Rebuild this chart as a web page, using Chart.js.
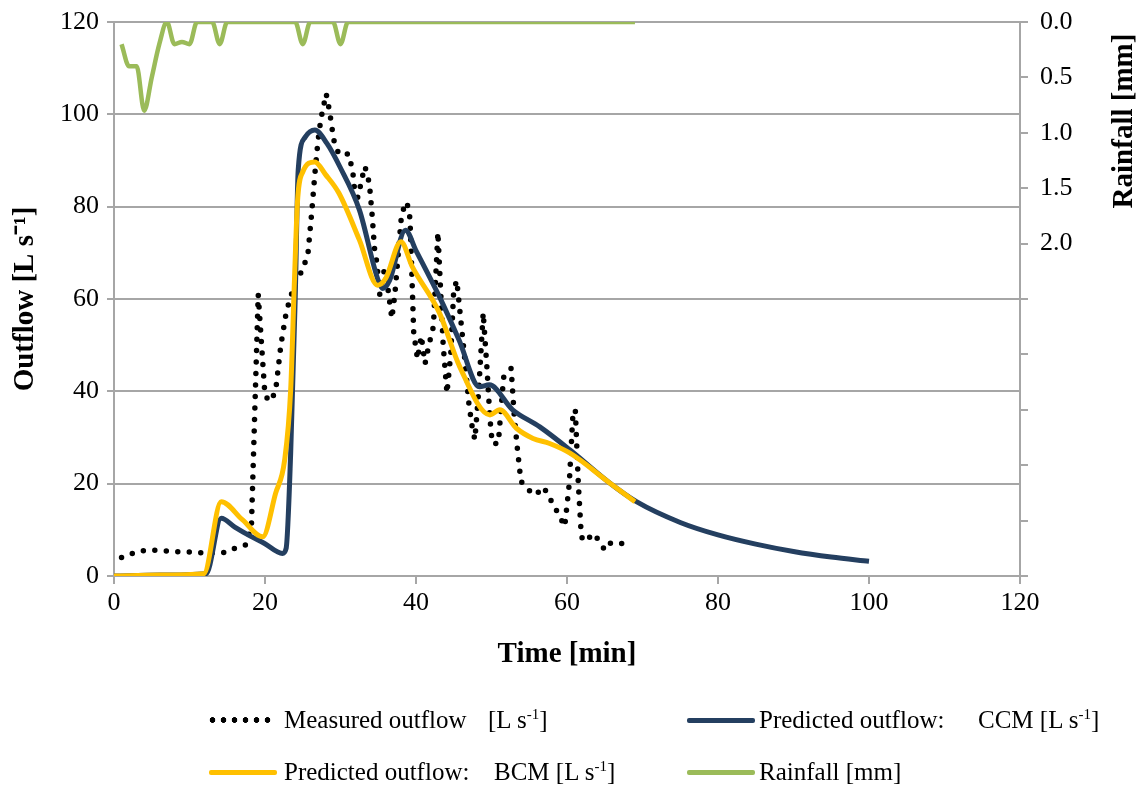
<!DOCTYPE html>
<html>
<head>
<meta charset="utf-8">
<script src="https://cdn.jsdelivr.net/npm/chart.js@4.4.1/dist/chart.umd.min.js"></script>
<style>
  body { margin: 0; background: #fff; }
  #wrap { position: relative; width: 1142px; height: 789px; font-family: 'Liberation Serif', 'Times New Roman', serif; }
  #chart { position: absolute; left: 0; top: 0; }
  .lg { position: absolute; font-size: 25px; line-height: 30px; color: #000; white-space: nowrap; }
  .lg sup { font-size: 15px; line-height: 0; }
  .sw { position: absolute; height: 5px; border-radius: 2px; }
  .dots { position: absolute; height: 6px; background-image: radial-gradient(circle, #000 2.6px, transparent 3.1px); background-size: 11px 6px; }
</style>
</head>
<body>
<div id="wrap">
  <canvas id="chart" width="1142" height="789"></canvas>

  <div class="dots" style="left:207px; top:717px; width:68px;"></div>
  <div class="lg" style="left:284px; top:705px;">Measured outflow</div>
  <div class="lg" style="left:488px; top:705px;">[L s<sup>-1</sup>]</div>

  <div class="sw" style="left:687px; top:718px; width:68px; background:#243F60;"></div>
  <div class="lg" style="left:759px; top:705px;">Predicted outflow:</div>
  <div class="lg" style="left:978px; top:705px;">CCM [L s<sup>-1</sup>]</div>

  <div class="sw" style="left:209px; top:770px; width:68px; background:#FFC000;"></div>
  <div class="lg" style="left:284px; top:757px;">Predicted outflow:</div>
  <div class="lg" style="left:494px; top:757px;">BCM [L s<sup>-1</sup>]</div>

  <div class="sw" style="left:687px; top:770px; width:68px; background:#9BBB59;"></div>
  <div class="lg" style="left:759px; top:757px;">Rainfall [mm]</div>
</div>
<script>
// rainfall [mm] vs time [min]
const rainTime = [1, 2, 3, 4, 5, 6, 7, 8, 9, 10, 11, 12, 13, 14, 15, 24, 25, 26, 29, 30, 31, 69];
const rainMm   = [0.2, 0.4, 0.4, 0.8, 0.5, 0.2, 0, 0.2, 0.18, 0.2, 0, 0, 0, 0.2, 0, 0, 0.2, 0, 0, 0.2, 0, 0];

// measured outflow [L/s]
const measTime = [1, 2, 3, 4, 5, 6, 8, 10, 12, 14, 15, 16, 17.4, 18.2, 19.1, 20, 20.7, 21.4, 22.1, 22.8,
  23.3, 24.1, 25, 25.7, 26.2, 26.6, 27, 27.4, 28.1, 28.4, 28.7, 29.1, 29.6, 30.3, 31, 31.6, 31.9, 32.3,
  33.2, 33.6, 33.9, 34.2, 34.5, 34.8, 35.2, 35.8, 36.3, 36.8, 37.2, 38.1, 38.8, 39.2, 39.4, 39.7, 40.2,
  40.7, 41.2, 41.7, 42.3, 42.9, 43.6, 44.1, 44.6, 45, 45.4, 45.9, 46.4, 47, 47.5, 47.8, 48.3, 48.9, 49.4,
  49.8, 50.1, 50.9, 51.6, 52.6, 53, 53.4, 53.9, 55, 55.8, 56.9, 58, 59, 59.7, 60.3, 60.8, 61.1, 61.5,
  61.9, 62.4, 63.5, 64.3, 65, 65.8, 67, 68.7];
const measQ = [4, 4.6, 5.3, 5.5, 5.6, 5.5, 5.3, 5.2, 5.0, 5.0, 5.2, 6, 6.7, 10.7, 61, 39, 37.8, 40, 50, 57,
  60, 64, 66.3, 70, 79, 87, 94, 99, 104.5, 102, 99, 94.5, 92, 91, 91.5, 88, 83, 82,
  88.7, 87, 83.6, 78, 71, 68, 61, 66.3, 62, 55.8, 61, 78.6, 81, 77.5, 68, 52.6, 47,
  52, 46, 50, 54, 74.5, 50, 39.6, 48, 62, 64, 56, 48, 37.4, 31.6, 29.5, 40, 57, 45,
  34, 28.7, 28.7, 43, 45, 35, 28, 20.5, 18.5, 17.5, 19.3, 16, 13, 10.7, 20, 35.6, 36, 20,
  8.5, 7.4, 9.2, 7.5, 5.6, 7.2, 7, 7.1];

// predicted outflow, CCM [L/s]
const ccmTime = [0, 6, 12.2, 14.2, 16, 18, 20, 22.3, 22.8, 23.4, 24.0, 24.4, 25.3, 26.6, 28.2, 29.9, 32.5,
  35, 35.6, 36.5, 38.6, 40, 43.1, 45.7, 48.4, 49.7, 52.8, 56.4, 60.4, 65.7, 69.2, 75, 80, 85, 90, 95, 100];
const ccmQ = [0, 0.2, 0.5, 12.5, 10.6, 8.7, 7, 4.9, 6, 26.6, 60, 88, 95, 96.6, 93.7, 88.7, 79.3,
  64, 62.3, 64, 74.9, 70.5, 60.5, 51.1, 41, 41.4, 36, 32.3, 27.3, 20.1, 16.1, 11.6, 8.9, 6.9, 5.3, 4.1, 3.2];

// predicted outflow, BCM [L/s]
const bcmTime = [0, 6, 11.9, 14.2, 17, 19.7, 21.4, 22.6, 23.4, 23.9, 24.3, 25, 26.6, 28, 29.8, 32.5, 34.9,
  36, 38, 39.5, 43.1, 45.8, 49.8, 51.1, 53.3, 55.5, 57.7, 60.4, 65.7, 69];
const bcmQ = [0, 0.2, 0.5, 16.1, 12.2, 8.5, 17.9, 25.1, 40.3, 64, 81, 87.5, 89.7, 87, 82.9, 72.8, 63,
  64.5, 72.4, 67, 57, 45.3, 34.9, 36, 32, 29.8, 28.7, 26.6, 20.1, 16.1];

const xTicks = [0, 20, 40, 60, 80, 100, 120];

function pts(xs, ys) {
  return xs.map((x, i) => ({ x: x, y: ys[i] }));
}

const serif = "'Liberation Serif', 'Times New Roman', serif";
Chart.defaults.font.family = serif;
Chart.defaults.color = '#000';
const gridGray = '#a6a6a6';

const rightTitle = {
  id: 'rightTitle',
  afterDraw(chart) {
    const ctx = chart.ctx;
    ctx.save();
    ctx.translate(1125, 121);
    ctx.rotate(-Math.PI / 2);
    ctx.font = 'bold 29px ' + serif;
    ctx.fillStyle = '#000';
    ctx.textAlign = 'center';
    ctx.textBaseline = 'middle';
    ctx.fillText('Rainfall [mm]', 0, 0);
    ctx.restore();
  }
};

const ctx = document.getElementById('chart').getContext('2d');
const chart = new Chart(ctx, {
  type: 'line',
  data: {
    datasets: [
      {
        label: 'Measured outflow [L s-1]',
        data: pts(measTime, measQ),
        yAxisID: 'y',
        borderColor: '#000',
        borderWidth: 5.5,
        borderDash: [0, 11.5],
        borderCapStyle: 'round',
        pointRadius: 0,
        tension: 0,
        order: 4
      },
      {
        label: 'Predicted outflow: CCM [L s-1]',
        data: pts(ccmTime, ccmQ),
        yAxisID: 'y',
        borderColor: '#243F60',
        borderWidth: 5,
        pointRadius: 0,
        cubicInterpolationMode: 'monotone',
        order: 3
      },
      {
        label: 'Predicted outflow: BCM [L s-1]',
        data: pts(bcmTime, bcmQ),
        yAxisID: 'y',
        borderColor: '#FFC000',
        borderWidth: 5,
        pointRadius: 0,
        cubicInterpolationMode: 'monotone',
        order: 2
      },
      {
        label: 'Rainfall [mm]',
        data: pts(rainTime, rainMm),
        yAxisID: 'y2',
        borderColor: '#9BBB59',
        borderWidth: 4.5,
        pointRadius: 0,
        cubicInterpolationMode: 'monotone',
        order: 1
      }
    ]
  },
  options: {
    responsive: false,
    animation: false,
    layout: { padding: { top: 22, bottom: 100, left: 0, right: 0 } },
    plugins: {
      legend: { display: false },
      tooltip: { enabled: false }
    },
    scales: {
      x: {
        type: 'linear',
        min: 0,
        max: 120,
        afterBuildTicks: s => { s.ticks = xTicks.map(v => ({ value: v })); },
        afterFit: s => { s.height = 113; },
        ticks: { font: { size: 26 }, padding: 4, maxRotation: 0 },
        grid: { drawOnChartArea: false, color: gridGray, lineWidth: 2, tickLength: 8 },
        border: { color: gridGray, width: 2 },
        title: { display: true, text: 'Time [min]', font: { size: 29, weight: 'bold' }, padding: { top: 0, bottom: 17 } }
      },
      y: {
        position: 'left',
        min: 0,
        max: 120,
        ticks: { stepSize: 20, font: { size: 26, lineHeight: 0.8 }, padding: 8 },
        afterFit: s => { s.width = 114; s.paddingTop = 0; s.paddingBottom = 0; },
        grid: { color: gridGray, lineWidth: 2, tickLength: 7 },
        border: { color: gridGray, width: 2 },
        title: { display: true, text: 'Outflow [L s\u207B\u00B9]', font: { size: 29, weight: 'bold' }, padding: { top: 8, bottom: 0 } }
      },
      y2: {
        position: 'right',
        min: 0,
        max: 5,
        reverse: true,
        afterFit: s => { s.width = 122; s.paddingTop = 0; s.paddingBottom = 0; },
        ticks: {
          stepSize: 0.5,
          autoSkip: false,
          font: { size: 26, lineHeight: 0.8 },
          padding: 12,
          callback: v => (v <= 2 ? v.toFixed(1) : '')
        },
        grid: { drawOnChartArea: false, color: gridGray, lineWidth: 2, tickLength: 8 },
        border: { color: gridGray, width: 2 }
      }
    }
  },
  plugins: [rightTitle]
});
</script>
</body>
</html>
